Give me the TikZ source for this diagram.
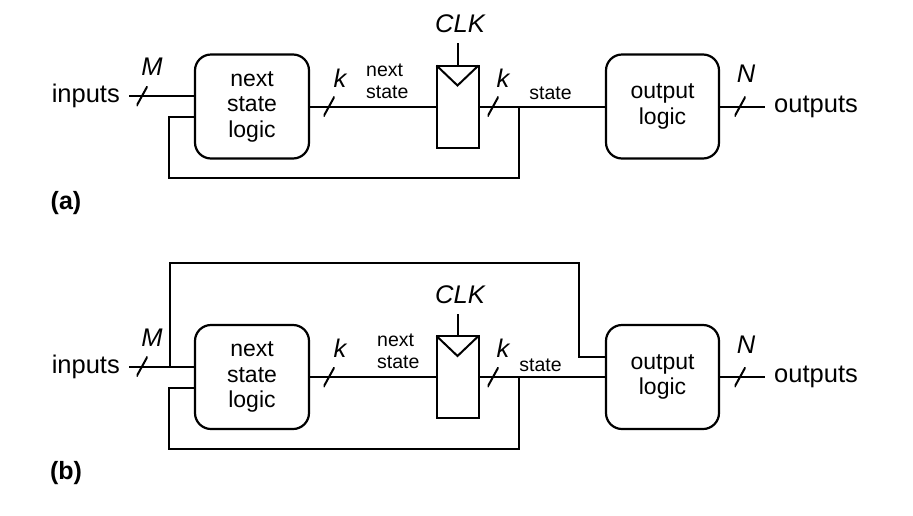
\documentclass[tikz,border=0pt]{standalone}
\usepackage{fontspec}
\setmainfont{Liberation Sans}

\begin{document}
\begin{tikzpicture}[
        x=1pt, y=-1pt,
        logic/.style={draw, line width=2.2pt, rounded corners=16pt, align=center, minimum width=114pt, minimum height=104pt, font=\fontsize{23}{25.5}\selectfont},
        flop/.style={draw, line width=2pt, minimum width=42pt, minimum height=82pt, inner sep=0pt, outer sep=0pt},
        wire/.style={line width=2pt},
        bus/.style={inner sep=0pt, minimum width=11pt, minimum height=20pt, path picture={\draw[line width=2pt] (path picture bounding box.south west) -- (path picture bounding box.north east);}},
        io/.style={inner sep=0pt, font=\fontsize{25.5}{28}\selectfont},
        var/.style={inner sep=0pt, font=\fontsize{25.5}{28}\selectfont\itshape},
        sig/.style={inner sep=0pt, align=left, font=\fontsize{19.5}{22}\selectfont},
        tag/.style={inner sep=0pt, font=\fontsize{25}{28}\selectfont\bfseries},
    ]
    \useasboundingbox (0,0) rectangle (913,515);

    % (a) Moore machine
    \node[logic] (nsla) at (252,106.5) {next\\state\\logic};
    \node[flop] (ffa) at (457.5,106.5) {};
    \node[logic, minimum width=113pt] (ola) at (662.5,106.5) {output\\logic};
    \node[io, anchor=east] (ina) at (120,96) {inputs};
    \node[io, anchor=west] (outa) at (774,106.5) {outputs};
    \node[var] (clka) at (460,24) {CLK};
    \coordinate (clkina) at (457.5,43);
    \coordinate (fba) at (519,106.5);

    \draw[wire] ([xshift=9pt]ina.east) -- (ina.east -| nsla.west);
    \draw[wire] (nsla) -- (ffa);
    \draw[wire] (ffa) -- (ola);
    \draw[wire] (ola.east) -- ([xshift=-9pt]outa.west);
    \draw[wire] (ffa.north) -- (clkina);
    \draw[wire] (ffa.north west) -- ([yshift=-20pt]ffa.north) -- (ffa.north east);
    \draw[wire] (fba) -- ++(0,71.5) -| ([xshift=-25pt,yshift=-10.5pt]nsla.west) -- ([yshift=-10.5pt]nsla.west);

    \node[bus] (busMa) at (142,96) {};
    \node[bus] (busKa1) at (329,106.5) {};
    \node[bus] (busKa2) at (493,106.5) {};
    \node[bus] (busNa) at (740,106.5) {};
    \node[var] (Ma) at (152,67) {M};
    \node[var] (ka1) at (340,78) {k};
    \node[var] (ka2) at (503,78) {k};
    \node[var] (Na) at (746,74) {N};
    \node[sig, anchor=west] (nsa) at (366,81) {next\\state};
    \node[sig] (sta) at (550.5,93.5) {state};
    \node[tag] (taga) at (66,203) {(a)};

    % (b) Mealy machine
    \node[logic] (nslb) at (252,377) {next\\state\\logic};
    \node[flop] (ffb) at (457.5,377) {};
    \node[logic, minimum width=113pt] (olb) at (662.5,377) {output\\logic};
    \node[io, anchor=east] (inb) at (120,366.5) {inputs};
    \node[io, anchor=west] (outb) at (774,377) {outputs};
    \node[var] (clkb) at (460,294.5) {CLK};
    \coordinate (clkinb) at (457.5,313.5);
    \coordinate (fbb) at (519,377);
    \coordinate (jb) at (170,366.5);

    \draw[wire] ([xshift=9pt]inb.east) -- (inb.east -| nslb.west);
    \draw[wire] (nslb) -- (ffb);
    \draw[wire] (ffb) -- (olb);
    \draw[wire] (olb.east) -- ([xshift=-9pt]outb.west);
    \draw[wire] (ffb.north) -- (clkinb);
    \draw[wire] (ffb.north west) -- ([yshift=-20pt]ffb.north) -- (ffb.north east);
    \draw[wire] (fbb) -- ++(0,71.5) -| ([xshift=-25pt,yshift=-10.5pt]nslb.west) -- ([yshift=-10.5pt]nslb.west);
    \draw[wire] (jb) |- (579,263) |- ([yshift=20pt]olb.west);

    \node[bus] (busMb) at (142,366.5) {};
    \node[bus] (busKb1) at (329,377) {};
    \node[bus] (busKb2) at (493,377) {};
    \node[bus] (busNb) at (740,377) {};
    \node[var] (Mb) at (152,337.5) {M};
    \node[var] (kb1) at (340,348.5) {k};
    \node[var] (kb2) at (503,348.5) {k};
    \node[var] (Nb) at (746,344.5) {N};
    \node[sig, anchor=west] (nsb) at (377,351.5) {next\\state};
    \node[sig] (stb) at (540.5,365) {state};
    \node[tag] (tagb) at (66,473) {(b)};
\end{tikzpicture}
\end{document}
